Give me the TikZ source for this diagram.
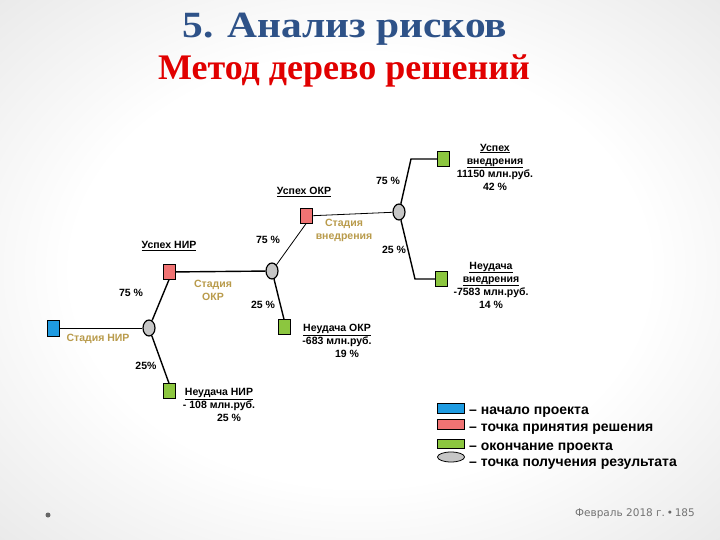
\documentclass[tikz,border=0pt]{standalone}
\usepackage{fontspec}
\setmainfont{Liberation Serif}
\setsansfont{Liberation Sans}
\newfontfamily\footfont{DejaVu Sans}
\usetikzlibrary{shapes.geometric}
\definecolor{titleblue}{RGB}{46,82,136}
\definecolor{subred}{RGB}{225,0,0}
\definecolor{startblue}{RGB}{30,155,225}
\definecolor{decred}{RGB}{240,115,115}
\definecolor{endgreen}{RGB}{140,198,63}
\definecolor{stagegold}{RGB}{185,155,75}
\pgfdeclareradialshading{vignette}{\pgfpoint{0bp}{0bp}}{color(0bp)=(white); color(20bp)=(white); color(50bp)=(black!16)}
\tikzset{
    startbox/.style={
           rectangle, draw=black, fill=startblue,
           minimum width=12pt, minimum height=16pt, inner sep=0pt,
           },
    decisionbox/.style={
           rectangle, draw=black, fill=decred,
           minimum width=12pt, minimum height=15pt, inner sep=0pt,
           },
    endbox/.style={
           rectangle, draw=black, fill=endgreen,
           minimum width=12pt, minimum height=15pt, inner sep=0pt,
           },
    chancenode/.style={
           ellipse, draw=black, line width=1.2pt, fill=gray!45,
           minimum width=12pt, minimum height=16pt, inner sep=0pt,
           },
    lbl/.style={
           font=\sffamily\bfseries\fontsize{10.5}{13}\selectfont,
           inner sep=0pt, align=center,
           },
    stagelbl/.style={lbl, text=stagegold},
    legendtext/.style={
           font=\sffamily\bfseries\fontsize{14}{15}\selectfont,
           anchor=west, inner sep=0pt,
           },
    branch/.style={line width=1.4pt},
    stem/.style={line width=0.8pt},
}

\begin{document}
\begin{tikzpicture}[x=1pt,y=-1pt]
\shade[shading=vignette] (0,0) rectangle (720,540);
\useasboundingbox (0,0) rectangle (720,540);
\node[font=\bfseries\fontsize{37}{40}\selectfont, text=titleblue, xscale=1.12, transform shape] (title) at (345,29) {5. Анализ рисков};
\node[font=\bfseries\fontsize{36}{40}\selectfont, text=subred] (subtitle) at (344,71) {Метод дерево решений};
\node[startbox] (nir) at (53,328) {};
\node[chancenode] (c1) at (149,328) {};
\node[decisionbox] (d1) at (169,272) {};
\node[endbox] (e1) at (169,391) {};
\node[chancenode] (c2) at (272,271) {};
\node[decisionbox] (d2) at (306,216) {};
\node[endbox] (e2) at (284,327) {};
\node[chancenode] (c3) at (399,212) {};
\node[endbox] (e3) at (443,159) {};
\node[endbox] (e4) at (441,279) {};
\coordinate (k3) at (411,159);
\coordinate (k4) at (415,279);
\draw[stem] (nir) -- (c1);
\draw[branch] (c1) -- (d1.south);
\draw[branch] (c1) -- (e1.north);
\draw[branch] (d1) -- (c2);
\draw[stem] (c2) -- (d2.south);
\draw[branch] (c2) -- (e2.north);
\draw[stem] (d2) -- (c3);
\draw[branch] (c3) -- (k3) -- (e3);
\draw[branch] (c3) -- (k4) -- (e4);
\node[lbl] (l1) at (169,246) {\underline{Успех НИР}};
\node[lbl] (p1) at (131,293) {75 \%};
\node[lbl] (p2) at (146,366) {25\%};
\node[stagelbl] (s1) at (98,339) {Стадия НИР};
\node[lbl] (l2) at (219,405) {\underline{Неудача НИР}\\- 108 млн.руб.\\\hspace*{20pt}25 \%};
\node[stagelbl] (s2) at (213,290) {Стадия\\ОКР};
\node[lbl] (p3) at (268,240) {75 \%};
\node[lbl] (p4) at (263,305) {25 \%};
\node[lbl] (l3) at (304,192) {\underline{Успех ОКР}};
\node[lbl] (l4) at (337,341) {\underline{Неудача ОКР}\\-683 млн.руб.\\\hspace*{20pt}19 \%};
\node[stagelbl] (s3) at (344,230) {Стадия\\внедрения};
\node[lbl] (p5) at (388,181) {75 \%};
\node[lbl] (p6) at (394,250) {25 \%};
\node[lbl] (l5) at (495,167) {\underline{Успех}\\\underline{внедрения}\\11150 млн.руб.\\42 \%};
\node[lbl] (l6) at (491,285) {\underline{Неудача}\\\underline{внедрения}\\-7583 млн.руб.\\14 \%};
\node[startbox, minimum width=27pt, minimum height=10pt] (g1) at (451,408) {};
\node[decisionbox, minimum width=27pt, minimum height=10pt] (g2) at (451,424) {};
\node[endbox, minimum width=27pt, minimum height=9pt] (g3) at (451,444) {};
\node[chancenode, minimum width=27pt, minimum height=10pt, line width=0.8pt] (g4) at (451,457) {};
\node[legendtext] (t1) at (469,412) {– начало проекта};
\node[legendtext] (t2) at (469,429) {– точка принятия решения};
\node[legendtext] (t3) at (469,448) {– окончание проекта};
\node[legendtext] (t4) at (469,464) {– точка получения результата};
\fill[black!60] (48,515) circle (2.5);
\node[font=\footfont\fontsize{10.5}{11}\selectfont, text=black!55, anchor=east, inner sep=0pt] (foot) at (695,514) {Февраль 2018 г.\,{\color{black!60}\textbullet}\,185};
\end{tikzpicture}
\end{document}
